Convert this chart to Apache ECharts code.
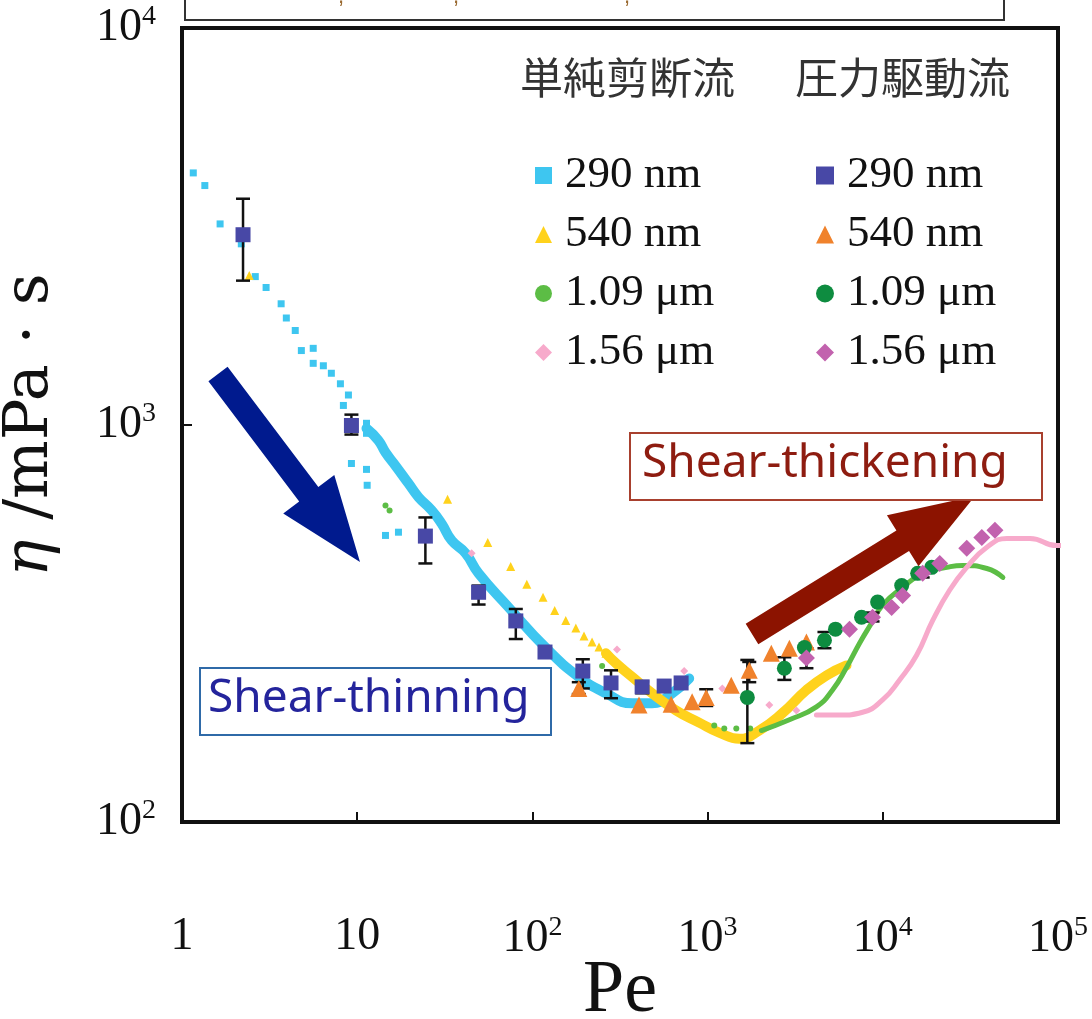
<!DOCTYPE html>
<html>
<head>
<meta charset="utf-8">
<script src="https://cdn.jsdelivr.net/npm/echarts@6/dist/echarts.min.js"></script>
<style>
  html, body { margin: 0; padding: 0; background: #fff; }
  #chart { width: 1092px; height: 1019px; }
</style>
</head>
<body>
<div id="chart"></div>
<script>
// 粘度 η vs Pe（単純剪断流 / 圧力駆動流）

// 単純剪断流（細かい点と太い帯）
const simple290Pts = [[1.16,4315],[1.35,4010],[1.65,3210],[2.18,2860],[2.62,2365],[3.02,2220],[3.68,2020],[3.94,1860],[4.43,1730],[4.80,1540],[5.61,1560],[5.61,1430],[6.41,1410],[7.12,1350],[8.02,1270],[8.91,1190],[8.34,1120],[11.3,1010],[11.3,953],[9.27,800],[11.3,773],[11.4,705],[17.2,537],[14.5,527]];
const simple290Band = [[11.3,980],[13.2,915],[14.5,853],[16.5,791],[19.6,713],[22.4,658],[26.6,610],[30.3,565],[34.6,512],[41.6,475],[49.3,423],[73.3,347],[119,275],[184,232],[263,211],[371,199],[482,199],[627,211],[785,230]];
const simple540Pts = [[2.42,2380],[32.8,650],[55.6,506],[75.2,440],[92.9,397],[115,368],[134,341],[155,322],[177,308],[197,294],[219,284],[240,276],[263,266]];
const simple540Line = [[263,266],[300,251],[371,232],[482,211],[661,191],[895,178],[1165,168],[1517,162],[1973,170],[2673,188],[3666,215],[4768,234],[6207,248]];
const simple109Pts = [[14.5,627],[15.3,609],[250,247],[1091,175],[1245,172],[1458,172],[1750,172]];
const simple109Line = [[2027,170],[2930,181],[4180,195],[5165,215],[6207,245],[7367,282],[8630,317],[9970,352],[12980,390],[16890,423],[23190,438],[28620,443],[39260,435],[48450,413]];
const simple156Pts = [[45.0,475],[304,272],[735,240],[1213,217],[2251,197],[3213,191]];
const simple156Line = [[4180,186],[5660,186],[7660,189],[9970,203],[12470,228],[15590,263],[19270,322],[24100,384],[30150,438],[39260,492],[51100,518],[69200,518],[98600,497],[148000,497]];

// 圧力駆動流
const press290 = [[2.23,3015],[9.27,997],[24.5,525],[49.3,379],[80.4,321],[118,268],[194,240],[281,224],[423,219],[565,220],[706,224]];
const press540 = [[184,217],[406,197],[619,198],[816,201],[982,206],[1364,221],[1729,241],[2310,266],[2930,274],[3666,284]];
const press109 = [[1686,206],[2743,244],[3570,275],[4645,287],[5370,306],[7560,328],[9340,358],[12820,394],[15810,423],[19010,438]];
const press156 = [[3666,259],[6457,306],[8740,328],[11230,347],[12980,372],[16890,423],[21140,448],[30150,489],[36730,521],[43650,543]];

// エラーバー [Pe, 下限, 上限]
const errBars = [[2.23,2310,3715],[9.27,946,1062],[24.5,448,585],[49.3,353,394],[80.4,289,344],[194,217,257],[281,205,241],[423,211,226],
  [184,210,225],[982,196,216],[1729,225,253],
  [1686,158,256],[2743,228,260],[4645,274,301],
  [3666,244,274],[8740,320,337],[16890,413,433]];

const xTicks = [1, 10, 100, 1000, 10000, 100000];
const yTicks = [100, 1000, 10000];

const C = {
  lblue: '#3ec6f0', yellow: '#ffd21c', lgreen: '#5cbd45', pink: '#f7aacb',
  navy: '#4848a6', orange: '#f0822c', dgreen: '#0e8c40', purple: '#c262ae'
};

const serif = 'Liberation Serif';

function powLabel(v) {
  const e = Math.round(Math.log10(v));
  if (e === 0) return '1';
  if (e === 1) return '10';
  return '{b|10}{s|' + e + '}';
}
const richLbl = {
  b: { fontSize: 46, fontFamily: serif, color: '#111', lineHeight: 50 },
  s: { fontSize: 28, fontFamily: serif, color: '#111', verticalAlign: 'top', lineHeight: 50 }
};

function renderErr(params, api) {
  const x = api.value(0);
  const a = api.coord([x, api.value(2)]);
  const b = api.coord([x, api.value(1)]);
  const w = 7;
  const st = { stroke: '#111', lineWidth: 2.5 };
  return {
    type: 'group',
    children: [
      { type: 'line', shape: { x1: a[0], y1: a[1], x2: b[0], y2: b[1] }, style: st },
      { type: 'line', shape: { x1: a[0] - w, y1: a[1], x2: a[0] + w, y2: a[1] }, style: st },
      { type: 'line', shape: { x1: b[0] - w, y1: b[1], x2: b[0] + w, y2: b[1] }, style: st }
    ]
  };
}

// 太い矢印（注釈）
function arrowPts(tail, tip, sh, hh, hl) {
  const dx = tip[0] - tail[0], dy = tip[1] - tail[1];
  const L = Math.hypot(dx, dy), ux = dx / L, uy = dy / L, px = -uy, py = ux;
  const bx = tip[0] - ux * hl, by = tip[1] - uy * hl;
  return [
    [tail[0] + px * sh, tail[1] + py * sh], [bx + px * sh, by + py * sh], [bx + px * hh, by + py * hh],
    tip,
    [bx - px * hh, by - py * hh], [bx - px * sh, by - py * sh], [tail[0] - px * sh, tail[1] - py * sh]
  ];
}

const chart = echarts.init(document.getElementById('chart'));

const legendText = { fontFamily: serif, fontSize: 45, color: '#111', lineHeight: 45, padding: [0, 0, 0, 8] };

const option = {
  animation: false,
  backgroundColor: '#fff',
  grid: {
    left: 182, right: 34, top: 28, bottom: 197, outerBoundsMode: 'none', containLabel: false,
    show: true, borderColor: '#111', borderWidth: 4, backgroundColor: 'transparent'
  },
  xAxis: {
    type: 'log', min: 1, max: 100000, logBase: 10,
    axisLine: { lineStyle: { color: '#111', width: 4 } },
    axisTick: { inside: true, length: 10, lineStyle: { color: '#111', width: 2 } },
    axisLabel: { margin: 92, formatter: powLabel, rich: richLbl, fontSize: 46, fontFamily: serif, color: '#111' },
    splitLine: { show: false },
    name: 'Pe', nameLocation: 'middle', nameGap: 133, nameMoveOverlap: false,
    nameTextStyle: { fontFamily: serif, fontSize: 74, color: '#111' }
  },
  yAxis: {
    type: 'log', min: 100, max: 10000, logBase: 10,
    axisLine: { lineStyle: { color: '#111', width: 4 } },
    axisTick: { inside: true, length: 10, lineStyle: { color: '#111', width: 2 } },
    axisLabel: { margin: 26, formatter: powLabel, rich: richLbl, fontSize: 46, fontFamily: serif, color: '#111' },
    splitLine: { show: false },
    name: '{i|η} /mPa · s', nameLocation: 'middle', nameGap: 120, nameMoveOverlap: false,
    nameTextStyle: {
      fontFamily: 'DejaVu Serif', fontSize: 62, color: '#111',
      rich: { i: { fontFamily: 'DejaVu Serif', fontStyle: 'italic', fontSize: 62, color: '#111' } }
    }
  },
  legend: [
    {
      orient: 'vertical', left: 530, top: 148, itemGap: 14, itemWidth: 17, itemHeight: 17,
      textStyle: legendText, formatter: n => n.slice(2), selectedMode: false,
      data: [
        { name: 'S 290 nm', icon: 'rect', itemStyle: { color: C.lblue } },
        { name: 'S 540 nm', icon: 'triangle', itemStyle: { color: C.yellow } },
        { name: 'S 1.09 μm', icon: 'circle', itemStyle: { color: C.lgreen } },
        { name: 'S 1.56 μm', icon: 'diamond', itemStyle: { color: C.pink } }
      ]
    },
    {
      orient: 'vertical', left: 811, top: 148, itemGap: 14, itemWidth: 18, itemHeight: 18,
      textStyle: legendText, formatter: n => n.slice(2), selectedMode: false,
      data: [
        { name: 'P 290 nm', icon: 'rect', itemStyle: { color: C.navy } },
        { name: 'P 540 nm', icon: 'triangle', itemStyle: { color: C.orange } },
        { name: 'P 1.09 μm', icon: 'circle', itemStyle: { color: C.dgreen } },
        { name: 'P 1.56 μm', icon: 'diamond', itemStyle: { color: C.purple } }
      ]
    }
  ],
  series: [
    // 単純剪断流：太線部分
    { name: 'S 290 nm', type: 'line', data: simple290Band, smooth: true, showSymbol: false, z: 2,
      lineStyle: { color: C.lblue, width: 10, cap: 'round', join: 'round' } },
    { name: 'S 540 nm', type: 'line', data: simple540Line, smooth: true, showSymbol: false, z: 2,
      lineStyle: { color: C.yellow, width: 10, cap: 'round', join: 'round' } },
    { name: 'S 1.09 μm', type: 'line', data: simple109Line, smooth: true, showSymbol: false, z: 2,
      lineStyle: { color: C.lgreen, width: 5, cap: 'round', join: 'round' } },
    { name: 'S 1.56 μm', type: 'line', data: simple156Line, smooth: true, showSymbol: false, z: 2, clip: false,
      lineStyle: { color: C.pink, width: 5, cap: 'round', join: 'round' } },
    // 単純剪断流：点
    { name: 'S 290 nm', type: 'scatter', data: simple290Pts, symbol: 'rect', symbolSize: 7, itemStyle: { color: C.lblue, opacity: 1 }, z: 3 },
    { name: 'S 540 nm', type: 'scatter', data: simple540Pts, symbol: 'triangle', symbolSize: 9, itemStyle: { color: C.yellow, opacity: 1 }, z: 3 },
    { name: 'S 1.09 μm', type: 'scatter', data: simple109Pts, symbol: 'circle', symbolSize: 6, itemStyle: { color: C.lgreen, opacity: 1 }, z: 3 },
    { name: 'S 1.56 μm', type: 'scatter', data: simple156Pts, symbol: 'diamond', symbolSize: 8, itemStyle: { color: C.pink, opacity: 1 }, z: 3 },
    // エラーバー
    { type: 'custom', data: errBars, renderItem: renderErr, encode: { x: 0, y: [1, 2] }, z: 4, silent: true },
    // 圧力駆動流
    { name: 'P 290 nm', type: 'scatter', data: press290, symbol: 'rect', symbolSize: 15, itemStyle: { color: C.navy, opacity: 1 }, z: 5 },
    { name: 'P 540 nm', type: 'scatter', data: press540, symbol: 'triangle', symbolSize: 17, itemStyle: { color: C.orange, opacity: 1 }, z: 5 },
    { name: 'P 1.09 μm', type: 'scatter', data: press109, symbol: 'circle', symbolSize: 15, itemStyle: { color: C.dgreen, opacity: 1 }, z: 5 },
    { name: 'P 1.56 μm', type: 'scatter', data: press156, symbol: 'diamond', symbolSize: 17, itemStyle: { color: C.purple, opacity: 1 }, z: 5 }
  ],
  graphic: [
    // 上部の切れた枠
    { type: 'rect', shape: { x: 185, y: -20, width: 819, height: 40 }, style: { fill: 'none', stroke: '#333', lineWidth: 2 }, z: 10 },
    { type: 'text', left: 338, top: -14, style: { text: ',', fontSize: 22, fill: '#9a6a30' }, z: 10 },
    { type: 'text', left: 453, top: -14, style: { text: ',', fontSize: 22, fill: '#9a6a30' }, z: 10 },
    { type: 'text', left: 624, top: -14, style: { text: ',', fontSize: 22, fill: '#9a6a30' }, z: 10 },
    // 凡例見出し
    { type: 'text', left: 520, top: 56, style: { text: '単純剪断流', fontFamily: 'Noto Sans CJK JP', fontSize: 43, fill: '#333' }, z: 10 },
    { type: 'text', left: 795, top: 56, style: { text: '圧力駆動流', fontFamily: 'Noto Sans CJK JP', fontSize: 43, fill: '#333' }, z: 10 },
    // 矢印
    { type: 'polygon', shape: { points: arrowPts([218, 374], [360, 562], 12, 32, 85) }, style: { fill: '#001a8e' }, z: 10 },
    { type: 'polygon', shape: { points: arrowPts([752, 634], [975, 496], 12, 30, 85) }, style: { fill: '#8c1300' }, z: 10 },
    // 注釈ボックス
    { type: 'rect', shape: { x: 200, y: 668, width: 351, height: 67 }, style: { fill: '#fff', stroke: '#2f6aa8', lineWidth: 2 }, z: 11 },
    { type: 'text', left: 208, top: 676, style: { text: 'Shear-thinning', fontFamily: 'Noto Sans', fontSize: 46, fill: '#24249c' }, z: 12 },
    { type: 'rect', shape: { x: 630, y: 433, width: 412, height: 67 }, style: { fill: '#fff', stroke: '#a8402e', lineWidth: 2 }, z: 11 },
    { type: 'text', left: 642, top: 441, style: { text: 'Shear-thickening', fontFamily: 'Noto Sans', fontSize: 46, fill: '#8e1c10' }, z: 12 }
  ]
};

chart.setOption(option);
</script>
</body>
</html>
